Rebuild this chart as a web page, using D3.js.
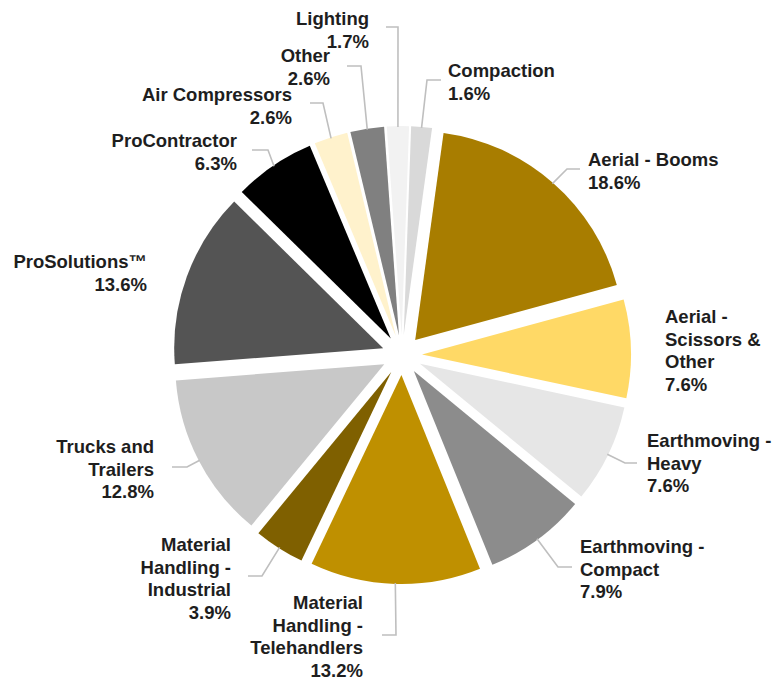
<!DOCTYPE html>
<html>
<head>
<meta charset="utf-8">
<script src="https://cdn.jsdelivr.net/npm/d3@7/dist/d3.min.js"></script>
<style>
  html, body { margin: 0; padding: 0; background: #fff; }
  svg { display: block; }
  text { font-family: "Liberation Sans", Arial, sans-serif; font-weight: bold; font-size: 18.5px; fill: #1e1e1e; }
</style>
</head>
<body>
<svg id="chart" width="775" height="681"></svg>
<script>
// ---- data ----
const categories = [
  "Aerial - Booms",
  "Aerial - Scissors & Other",
  "Earthmoving - Heavy",
  "Earthmoving - Compact",
  "Material Handling - Telehandlers",
  "Material Handling - Industrial",
  "Trucks and Trailers",
  "ProSolutions™",
  "ProContractor",
  "Air Compressors",
  "Other",
  "Lighting",
  "Compaction"
];
const shares = [18.6, 7.6, 7.6, 7.9, 13.2, 3.9, 12.8, 13.6, 6.3, 2.6, 2.6, 1.7, 1.6];
const labelLines = [
  ["Aerial - Booms"],
  ["Aerial -", "Scissors &", "Other"],
  ["Earthmoving -", "Heavy"],
  ["Earthmoving -", "Compact"],
  ["Material", "Handling -", "Telehandlers"],
  ["Material", "Handling -", "Industrial"],
  ["Trucks and", "Trailers"],
  ["ProSolutions™"],
  ["ProContractor"],
  ["Air Compressors"],
  ["Other"],
  ["Lighting"],
  ["Compaction"]
];
const colors = ["#A87D00", "#FFD966", "#E6E6E6", "#8C8C8C", "#BF9000", "#7F6000",
                "#C8C8C8", "#545454", "#000000", "#FFF2CC", "#808080", "#F2F2F2", "#D9D9D9"];

// ---- layout (label placement, not data) ----
const labelLayout = [
  {x: 588, y: 166, anchor: "start", leader: [[580, 169], [567, 169]]},
  {x: 665, y: 323, anchor: "start", leader: null},
  {x: 647, y: 447, anchor: "start", leader: [[637, 463], [625, 463]]},
  {x: 580, y: 553, anchor: "start", leader: [[572, 567], [558, 567]]},
  {x: 363, y: 609, anchor: "end",   leader: [[382, 635], [396, 635]]},
  {x: 231, y: 551, anchor: "end",   leader: [[248, 576], [262, 576]]},
  {x: 154, y: 453, anchor: "end",   leader: [[172, 467], [187, 467]]},
  {x: 147, y: 268, anchor: "end",   leader: null},
  {x: 237, y: 147, anchor: "end",   leader: [[252, 150], [268, 150]]},
  {x: 292, y: 101, anchor: "end",   leader: [[310, 103], [323, 103]]},
  {x: 330, y: 62,  anchor: "end",   leader: [[347, 66], [361, 66]]},
  {x: 369, y: 25,  anchor: "end",   leader: [[386, 27], [398, 27]]},
  {x: 448, y: 77,  anchor: "start", leader: [[441, 80], [427, 80]]}
];

const cx = 402, cy = 355, R = 209, explode = 20, lineH = 22.5;
const startDeg = 7.8;

const data = categories.map((c, i) => ({name: c, value: shares[i], color: colors[i], lines: labelLines[i], layout: labelLayout[i]}));

const pie = d3.pie().sort(null).value(d => d.value)
  .startAngle(startDeg * Math.PI / 180)
  .endAngle(startDeg * Math.PI / 180 + 2 * Math.PI);
const arc = d3.arc().innerRadius(0).outerRadius(R);

const svg = d3.select("#chart");
const g = svg.append("g").attr("transform", `translate(${cx},${cy})`);
const arcs = pie(data);

// leader lines (drawn under slices)
const leaderG = svg.append("g");
arcs.forEach(a => {
  const L = a.data.layout;
  if (!L.leader) return;
  const mid = (a.startAngle + a.endAngle) / 2;
  const end = [cx + (R + explode - 1) * Math.sin(mid), cy - (R + explode - 1) * Math.cos(mid)];
  const pts = L.leader.concat([end]);
  leaderG.append("path")
    .attr("d", d3.line()(pts))
    .attr("fill", "none")
    .attr("stroke", "#BFBFBF")
    .attr("stroke-width", 1.6);
});

g.selectAll("path.slice")
  .data(arcs)
  .join("path")
  .attr("class", "slice")
  .attr("fill", d => d.data.color)
  .attr("transform", d => {
    const mid = (d.startAngle + d.endAngle) / 2;
    return `translate(${explode * Math.sin(mid)},${-explode * Math.cos(mid)})`;
  })
  .attr("d", arc);

// labels
const labG = svg.append("g");
arcs.forEach(a => {
  const L = a.data.layout;
  const lines = a.data.lines.concat([a.data.value.toFixed(1) + "%"]);
  const t = labG.append("text")
    .attr("text-anchor", L.anchor)
    .attr("x", L.x).attr("y", L.y);
  lines.forEach((ln, i) => {
    t.append("tspan").attr("x", L.x).attr("y", L.y + i * lineH).text(ln);
  });
});
</script>
</body>
</html>
